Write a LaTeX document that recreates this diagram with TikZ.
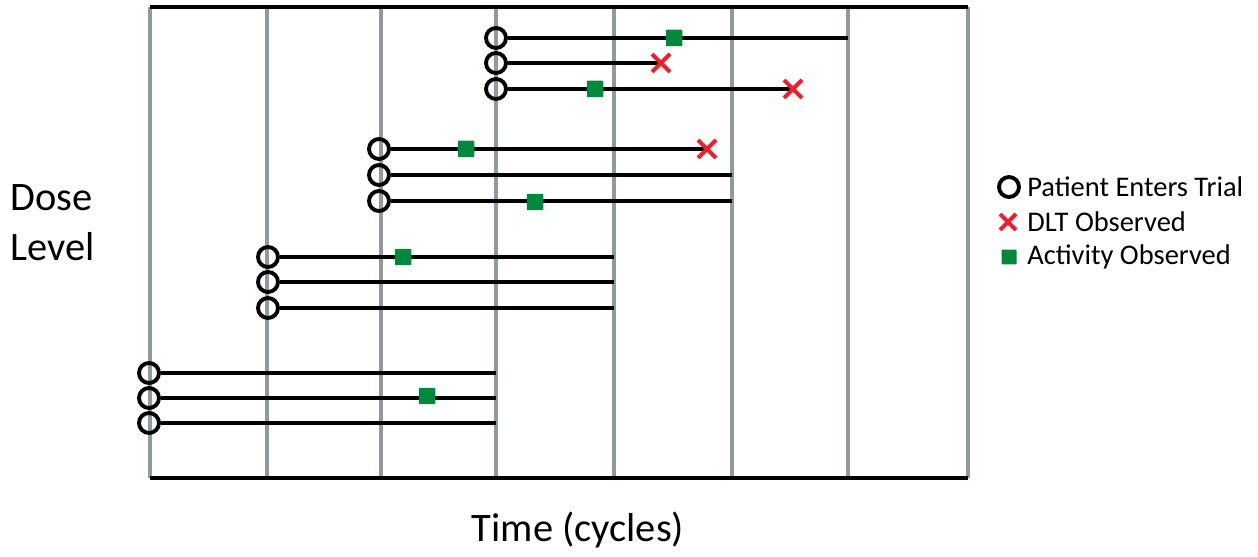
\documentclass[tikz,border=0pt]{standalone}
\usepackage{fontspec}
\setmainfont{Carlito}
\definecolor{gridgray}{HTML}{8C9BA1}
\definecolor{actgreen}{HTML}{00893D}
\definecolor{dltred}{HTML}{E8212E}
\tikzset{
  gridline/.style={gridgray, line width=2.1pt},
  frameline/.style={black, line width=2.5pt},
  patient/.style={black, line width=2.2pt},
  entry/.style={circle, draw=black, line width=2.2pt, minimum size=0.40cm, inner sep=0pt},
  activity/.style={rectangle, fill=actgreen, rounded corners=0.5pt, minimum size=0.33cm, inner sep=0pt},
  dlt/.style={dltred, line width=2.3pt},
  legendtext/.style={anchor=west, font=\fontsize{16.2}{18}\selectfont, inner sep=0pt},
  bigtext/.style={font=\fontsize{23}{26}\selectfont, inner sep=0pt}
}
\begin{document}
\begin{tikzpicture}[x=0.02cm, y=-0.02cm]
		\useasboundingbox (0,0) rectangle (1258,557);
		
		% cycle boundaries
		\foreach \gx in {150,267,381,496,614,732,848,968}
		    \draw[gridline] (\gx,7) -- (\gx,478);
		\draw[frameline] (150,7) -- (968,7);
		\draw[frameline] (150,478) -- (968,478);
		
		% patients: name/x/y/end of follow-up
		\foreach \n/\cx/\cy/\ex in {a/149/373/496, b/149/398/496, c/149/423/496,
		                            d/268/257/614, e/268/282/614, f/268/308/614,
		                            g/379/149/707, h/379/175/732, i/379/201/732,
		                            j/496/38/848,  k/496/63/661,  l/496/89/793}{
		    \node[entry] (p\n) at (\cx,\cy) {};
		    \coordinate (e\n) at (\ex,\cy);
		    \draw[patient] (p\n) -- (e\n);
		}
		
		% activity observed
		\node[activity] (sb) at (427,396) {};
		\node[activity] (sd) at (403,257) {};
		\node[activity] (sg) at (466,149) {};
		\node[activity] (si) at (535,202) {};
		\node[activity] (sj) at (674,38) {};
		\node[activity] (sl) at (595,89) {};
		
		% DLT observed
		\foreach \n in {g,k,l}{
		    \draw[dlt] (e\n) ++(-9,-9) -- ++(18,18);
		    \draw[dlt] (e\n) ++(-9,9) -- ++(18,-18);
		}
		
		% axis texts
		\node[bigtext, anchor=west] (dose)  at (10,198) {Dose};
		\node[bigtext, anchor=west] (level) at (10,247) {Level};
		\node[bigtext] (time) at (578,530) {Time (cycles)};
		
		% legend
		\node[entry] (lgcircle) at (1009,187) {};
		\node[legendtext] (lgentry) at (1027,187) {Patient Enters Trial};
		\coordinate (lgx) at (1008,222);
		\draw[dlt] (lgx) ++(-8,-8) -- ++(16,16);
		\draw[dlt] (lgx) ++(-8,8) -- ++(16,-16);
		\node[legendtext] (lgdlt) at (1027,222) {DLT Observed};
		\node[activity, minimum size=0.30cm] (lgsquare) at (1009,257) {};
		\node[legendtext] (lgact) at (1027,257) {Activity Observed};
\end{tikzpicture}
\end{document}
